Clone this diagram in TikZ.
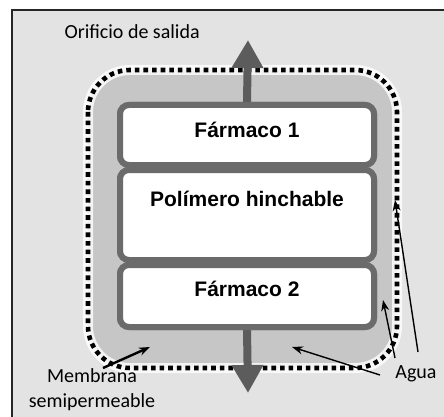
\documentclass[tikz,border=0pt]{standalone}
\usepackage{fontspec}
\usepackage{tikz}
\usetikzlibrary{arrows.meta}
\newfontfamily\labelfont{Carlito}
\newfontfamily\boxfont[BoldFont={Liberation Sans Bold}]{Liberation Sans}
\definecolor{fondo}{HTML}{E3E3E3}
\definecolor{banda}{HTML}{C6C6C6}
\definecolor{borde}{HTML}{6B6B6B}
\definecolor{flujo}{HTML}{5C5C5C}

\begin{document}
\begin{tikzpicture}[x=1pt,y=-1pt,
  capa/.style={draw=borde, line width=6pt, fill=white, rounded corners=9pt},
  titulo/.style={font=\boxfont\bfseries\fontsize{21}{24}\selectfont},
  etiqueta/.style={font=\labelfont\fontsize{20}{25}\selectfont, align=center},
  flecha/.style={-{Stealth[length=11pt,width=8pt]}, line width=1.4pt},
  salida/.style={draw=flujo, line width=8pt, -{Triangle[length=28pt,width=30pt]}}]
          \useasboundingbox (0,0) rectangle (444,417);
          % fondo y marco
          \fill[white] (0,0) rectangle (444,417);
          \fill[fondo] (12,10) rectangle (444,417);
          \draw[line width=2pt, color=black!85] (12,417) -- (12,10) -- (444,10);
          % membrana semipermeable
          \fill[banda, rounded corners=42pt] (88,70) rectangle (397,368);
          \draw[white, line width=10pt, opacity=0.8, rounded corners=42pt] (88,70) rectangle (397,368);
          \draw[line width=4.6pt, dash pattern=on 4.6pt off 4pt, rounded corners=42pt] (88,70) rectangle (397,368);
          \coordinate (up) at (248,40);
          \coordinate (down) at (248,393);
          % capas
          \node[capa, minimum width=254, minimum height=60] (f1) at (247,135) {};
          \node[capa, minimum width=254, minimum height=90] (pol) at (247,215) {};
          \node[capa, minimum width=254, minimum height=62] (f2) at (247,296) {};
          \draw[salida] (f1.north) -- (up);
          \draw[salida] (f2.south) -- (down);
          \node[capa, minimum width=254, minimum height=60] at (f1) {};
          \node[capa, minimum width=254, minimum height=62] at (f2) {};
          \node[capa, minimum width=254, minimum height=90] at (pol) {};
          \node[titulo] (t1) at (247,130) {Fármaco 1};
          \node[titulo] (t2) at (247,199) {Polímero hinchable};
          \node[titulo] (t3) at (247,289) {Fármaco 2};
          % etiquetas
          \node[etiqueta, anchor=west] (orif) at (61,32) {Orificio de salida};
          \node[etiqueta] (memb) at (92,390) {Membrana\\semipermeable};
          \node[etiqueta] (agua) at (416,374) {Agua};
          \coordinate (m0) at (103,368);
          \coordinate (m1) at (150,347);
          \coordinate (a1) at (380,375);
          \coordinate (b1) at (292,347);
          \coordinate (a2) at (395,358);
          \coordinate (b2) at (383,300);
          \coordinate (a3) at (418,352);
          \coordinate (b3) at (395,200);
          \draw[flecha, line width=2.4pt] (m0) -- (m1);
          \draw[flecha] (a1) -- (b1);
          \draw[flecha] (a2) -- (b2);
          \draw[flecha] (a3) -- (b3);
\end{tikzpicture}
\end{document}
